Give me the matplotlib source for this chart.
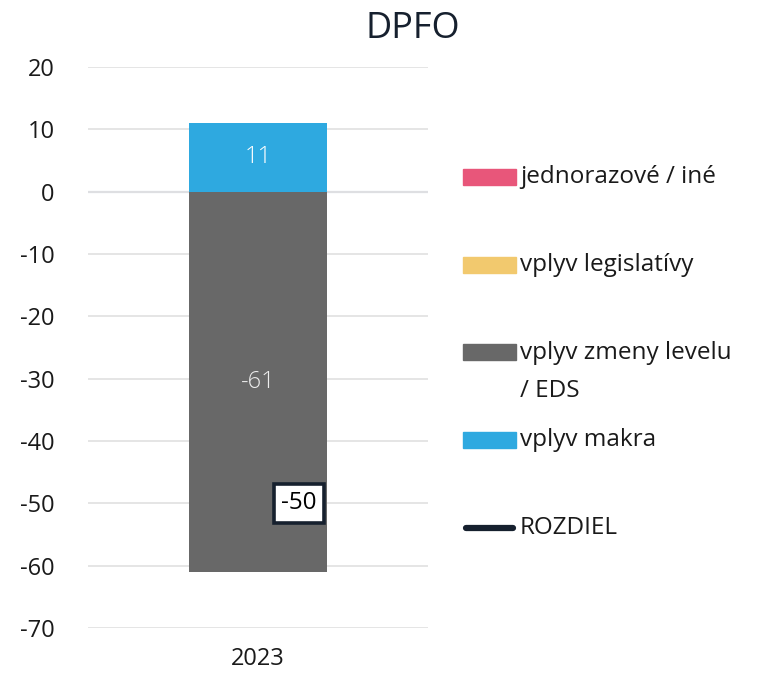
import matplotlib
matplotlib.use("Agg")
from matplotlib import pyplot as plt
from matplotlib.patches import Rectangle
from matplotlib.lines import Line2D
import numpy as np

# data
roky = ["2023"]
jednorazove = [0]
legislativa = [0]
level = [-61]
makro = [11]
rozdiel = [-50]

nazvy = ["jednorazové / iné", "vplyv legislatívy", "vplyv zmeny levelu\n/ EDS", "vplyv makra", "ROZDIEL"]
farby = ["#e8567a", "#f2c96e", "#686868", "#2ea9e0", "#16202e"]

plt.rcParams['font.family'] = ['Open Sans', 'DejaVu Sans']
plt.rcParams['axes.unicode_minus'] = False

fig = plt.figure(figsize=(7.69, 6.8), dpi=100)
ax = fig.add_axes([0.1144, 0.0765, 0.4422, 0.825])

x = np.arange(len(roky))
w = 0.403

# zaporne hodnoty idu pod nulu, kladne nad
b_level = ax.bar(x, level, w, color=farby[2], zorder=2)
b_makro = ax.bar(x, makro, w, bottom=0, color=farby[3], zorder=2)
ax.bar(x, jednorazove, w, color=farby[0], zorder=2)
ax.bar(x, legislativa, w, color=farby[1], zorder=2)

ax.bar_label(b_level, labels=[str(v) for v in level], label_type='center',
             color='#eeeeee', fontsize=17, fontweight='light')
ax.bar_label(b_makro, labels=[str(v) for v in makro], label_type='center',
             color='white', fontsize=17, fontweight='light')

# ROZDIEL - ciara bez znacky, len popis
ax.plot(x, rozdiel, color=farby[4], lw=0, zorder=3)
for xi, v in zip(x, rozdiel):
    ax.annotate(str(v), (xi, v), xytext=(41, 0), textcoords='offset pixels',
                ha='center', va='center', fontsize=17.5, color='black', zorder=4,
                bbox=dict(boxstyle='square,pad=0.3', fc='white', ec=farby[4], lw=2.6))

ax.set_xlim(-0.5, 0.5)
ax.set_ylim(-70, 20)
ax.set_yticks(np.arange(-70, 21, 10))
ax.set_xticks(x)
ax.set_xticklabels(roky)
ax.tick_params(axis='both', length=0, labelsize=17, labelcolor='#1a1a1a')
ax.tick_params(axis='y', pad=24)
ax.tick_params(axis='x', pad=14)
ax.grid(axis='y', color='#e0e0e0', lw=1.2, zorder=0)
ax.axhline(0, color='#d6dfec', lw=1.6, zorder=1)
for s in ax.spines.values():
    s.set_visible(False)

fig.text(0.537, 0.958, "DPFO", ha='center', va='center', fontsize=26, color='#16202e')

# legenda rucne, aby sedeli rozostupy
leg_y = [177, 265, 352, 440, 528]
H = 680.0
for i, (n, c) in enumerate(zip(nazvy, farby)):
    yc = 1 - leg_y[i] / H
    if i < 4:
        fig.add_artist(Rectangle((463 / 769, yc - 8 / H), 53 / 769, 16 / H,
                                 transform=fig.transFigure, color=c))
    else:
        fig.add_artist(Line2D([466 / 769, 513 / 769], [yc, yc], transform=fig.transFigure,
                              color=c, lw=4.5, solid_capstyle='round'))
    if "\n" in n:
        fig.text(520 / 769, yc + 11 / H, n, ha='left', va='top', fontsize=17.5,
                 color='#1a1a1a', linespacing=1.75)
    else:
        fig.text(520 / 769, yc, n, ha='left', va='center', fontsize=17.5, color='#1a1a1a')

fig.savefig("out.png", dpi=100)
